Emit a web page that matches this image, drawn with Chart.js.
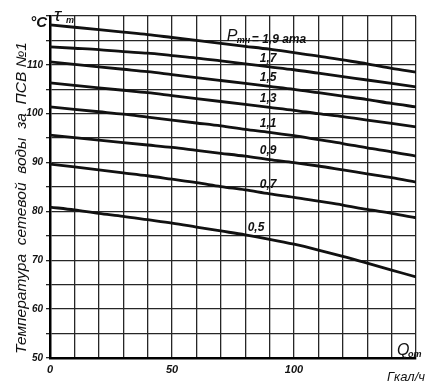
<!DOCTYPE html>
<html>
<head>
<meta charset="utf-8">
<script src="https://cdn.jsdelivr.net/npm/chart.js@4"></script>
<style>
  html, body { margin: 0; padding: 0; background: #fff; }
</style>
</head>
<body>
<canvas id="chart" width="441" height="387"></canvas>
<script>
// ===== Data =====
const qValues = [0, 10, 20, 30, 40, 50, 60, 70, 80, 90, 100, 110, 120, 130, 140, 150];

const t19 = [118.2, 117.7, 117.2, 116.7, 116.2, 115.6, 115.0, 114.4, 113.8, 113.2, 112.5, 111.8, 111.0, 110.2, 109.3, 108.5];
const t17 = [113.7, 113.4, 113.1, 112.7, 112.4, 111.9, 111.4, 110.8, 110.2, 109.6, 109.0, 108.3, 107.6, 106.9, 106.2, 105.5];
const t15 = [110.6, 110.1, 109.6, 109.1, 108.6, 108.0, 107.4, 106.8, 106.2, 105.6, 105.0, 104.3, 103.6, 102.9, 102.1, 101.4];
const t13 = [106.3, 105.8, 105.3, 104.8, 104.3, 103.7, 103.1, 102.5, 101.9, 101.3, 100.7, 100.0, 99.4, 98.7, 98.0, 97.3];
const t11 = [101.4, 100.9, 100.4, 99.9, 99.3, 98.7, 98.1, 97.5, 96.8, 96.2, 95.5, 94.7, 93.9, 93.0, 92.2, 91.3];
const t09 = [95.6, 95.1, 94.6, 94.1, 93.6, 93.1, 92.5, 91.9, 91.3, 90.6, 90.0, 89.3, 88.5, 87.7, 86.9, 86.0];
const t07 = [89.7, 89.1, 88.5, 87.9, 87.3, 86.6, 85.9, 85.1, 84.4, 83.6, 82.9, 82.1, 81.3, 80.4, 79.6, 78.7];
const t05 = [80.9, 80.3, 79.6, 79.0, 78.3, 77.6, 76.8, 76.0, 75.2, 74.3, 73.3, 72.1, 70.8, 69.4, 68.0, 66.6];

const series = [t19, t17, t15, t13, t11, t09, t07, t05];
const pressureLabels = ["1,9", "1,7", "1,5", "1,3", "1,1", "0,9", "0,7", "0,5"];

const xTickLabels = [0, 50, 100];
const yTickLabels = [50, 60, 70, 80, 90, 100, 110];

const yTitle = "Температура  сетевой  воды  за  ПСВ №1";

// ===== Helpers =====
const FONT = '"Liberation Sans", "DejaVu Sans", sans-serif';
const INK = "#111";

function valueAt(arr, q) {
  // value of a curve at q, between the two read points around it
  for (let i = 0; i < qValues.length - 1; i++) {
    if (q >= qValues[i] && q <= qValues[i + 1]) {
      const f = (q - qValues[i]) / (qValues[i + 1] - qValues[i]);
      return arr[i] + (arr[i + 1] - arr[i]) * f;
    }
  }
  return arr[arr.length - 1];
}

// ===== Text drawn on top (labels, units, axis title) =====
const notes = {
  id: "notes",
  afterDraw(chart) {
    const { ctx, scales: { x, y } } = chart;
    ctx.save();
    ctx.fillStyle = INK;

    // curve labels
    const labelQ = 86;
    ctx.textBaseline = "alphabetic";
    ctx.textAlign = "left";
    series.forEach((s, i) => {
      const q = i === series.length - 1 ? 81 : labelQ;
      const px = x.getPixelForValue(q);
      const py = y.getPixelForValue(valueAt(s, q)) - 4;
      ctx.font = "italic bold 12px " + FONT;
      if (i === 0) {
        ctx.fillText("= " + pressureLabels[i] + " ата", px - 8, py - 1);
        ctx.font = "italic 16px " + FONT;
        ctx.fillText("P", px - 33, py - 3);
        ctx.font = "italic bold 9px " + FONT;
        ctx.fillText("тн", px - 23, py - 1);
      } else {
        ctx.fillText(pressureLabels[i], px, py);
      }
    });

    // °C and tau at the top of the y axis
    ctx.font = "italic bold 15px " + FONT;
    ctx.textAlign = "right";
    ctx.fillText("°C", 47, 27);
    ctx.textAlign = "left";
    ctx.font = "italic 19px " + FONT;
    ctx.fillText("τ", 54, 21);
    ctx.font = "italic bold 9px " + FONT;
    ctx.fillText("т", 66, 23);

    // Q_от inside the corner and the unit below
    ctx.font = "italic 16px " + FONT;
    ctx.fillText("Q", 397, 355);
    ctx.font = "italic bold 9px " + FONT;
    ctx.fillText("от", 408, 357);
    ctx.font = "italic 13px " + FONT;
    ctx.fillText("Гкал/ч", 387, 381);

    // rotated y title
    ctx.font = "italic 14px " + FONT;
    ctx.textAlign = "center";
    ctx.textBaseline = "middle";
    const w = ctx.measureText(yTitle).width;
    ctx.translate(22, 198);
    ctx.rotate(-Math.PI / 2);
    ctx.scale(312 / w, 1);
    ctx.fillText(yTitle, 0, 0);
    ctx.restore();
  }
};

// ===== Chart =====
const ctx = document.getElementById("chart").getContext("2d");

new Chart(ctx, {
  type: "line",
  data: {
    datasets: series.map((s, i) => ({
      label: pressureLabels[i],
      data: qValues.map((q, j) => ({ x: q, y: s[j] })),
      borderColor: INK,
      borderWidth: 2.8,
      pointRadius: 0,
      fill: false,
      cubicInterpolationMode: "monotone"
    }))
  },
  options: {
    responsive: false,
    animation: false,
    layout: { padding: { top: 16, right: 25, left: 0, bottom: 0 } },
    plugins: {
      legend: { display: false },
      tooltip: { enabled: false }
    },
    scales: {
      x: {
        type: "linear",
        min: 0,
        max: 150,
        afterFit: (s) => { s.height = 29; },
        grid: { color: "#262626", lineWidth: 1.3, drawTicks: false },
        border: { color: "#000", width: 2.5 },
        ticks: {
          stepSize: 10,
          padding: 5,
          maxRotation: 0,
          autoSkip: false,
          color: INK,
          font: { family: FONT, size: 11, style: "italic", weight: "bold" },
          callback: (v) => (xTickLabels.includes(v) ? String(v) : "")
        }
      },
      y: {
        min: 50,
        max: 120,
        afterFit: (s) => { s.width = 50; },
        grid: { color: "#262626", lineWidth: 1.3, tickLength: 4 },
        border: { color: "#000", width: 2.5 },
        ticks: {
          stepSize: 5,
          padding: 3,
          autoSkip: false,
          color: INK,
          font: { family: FONT, size: 10, style: "italic", weight: "bold" },
          callback: (v) => (yTickLabels.includes(v) ? String(v) : "")
        }
      }
    }
  },
  plugins: [notes]
});
</script>
</body>
</html>
